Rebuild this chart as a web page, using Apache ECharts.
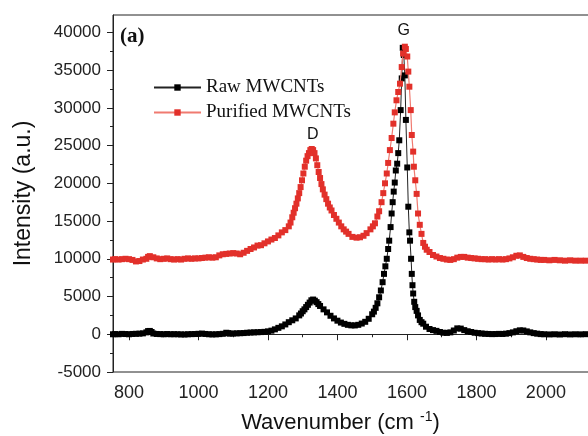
<!DOCTYPE html>
<html lang="en">
<head>
    <meta charset="UTF-8">
    <title>Raman MWCNTs</title>
    <script src="https://cdn.jsdelivr.net/npm/echarts@6.0.0/dist/echarts.min.js"></script>
    <style>
        html, body { margin: 0; padding: 0; background: #fff; }
    </style>
</head>
<body>
<div id="main" style="width: 588px;height:436px;"></div>
<script>
    // raw MWCNTs (black)
    var rawX = [754,760,770,780,790,800,810,820,830,840,850,855,860,865,870,880,890,900,910,920,930,940,950,960,970,980,990,
        1000,1010,1020,1030,1040,1050,1060,1070,1080,1085,1090,1100,1110,1120,1130,1140,1150,1160,1170,1180,1190,
        1200,1210,1220,1230,1240,1250,1260,1270,1280,1290,1295,1300,1305,1310,1315,1320,1325,1330,1335,1340,1345,1350,
        1360,1370,1380,1390,1400,1410,1420,1430,1440,1450,1460,1470,1480,1490,1500,1505,1510,1515,1520,1525,1530,
        1534,1538,1542,1546,1549,1553,1556,1559,1562,1565,1568,1572,1575,1578,1582,1585,1588,1591,1594,1597,1601,
        1604,1607,1609,1612,1614,1616,1618,1621,1624,1628,1632,1637,1642,1647,1655,1665,1675,1685,1695,1705,1715,
        1725,1735,1745,1755,1765,1775,1785,1795,1805,1815,1825,1835,1845,1855,1865,1875,1885,1895,1905,1915,1925,
        1935,1945,1955,1965,1975,1985,1995,2010,2025,2040,2055,2070,2085,2100,2115,2130,2150];
    var rawY = [0,20,0,50,30,0,40,60,80,120,250,420,440,300,100,40,20,0,30,0,10,0,-20,-30,0,20,30,
        60,90,40,0,-20,-10,20,60,200,150,80,100,120,140,160,200,230,250,270,290,320,
        380,480,650,850,1050,1300,1600,1850,2100,2500,2750,3050,3300,3600,3900,4200,4500,4600,4450,4250,4000,3750,
        3300,2900,2450,2100,1800,1550,1380,1250,1180,1170,1250,1420,1650,2050,2650,3000,3500,4100,4900,5800,6900,
        8000,9000,10000,11300,12400,14200,16000,17500,18900,20100,21700,22600,24000,25700,29700,33900,37950,37000,34300,28400,22100,
        16900,13500,12400,10000,8000,6500,5400,4300,3600,3100,2500,1900,1600,1400,1000,700,550,450,300,200,180,
        250,500,780,750,550,400,300,200,150,100,60,40,20,30,50,40,80,150,250,400,520,
        500,380,250,150,80,20,0,-20,0,-30,10,-20,0,-10,10,-20,0];

    // purified MWCNTs (red)
    var purX = [754,760,770,780,790,800,810,820,830,840,850,855,860,870,880,890,900,910,920,930,940,950,960,970,980,990,
        1000,1010,1020,1030,1040,1050,1060,1070,1080,1090,1100,1110,1120,1130,1140,1150,1160,1170,1180,1190,
        1200,1210,1220,1230,1240,1250,1260,1265,1270,1274,1278,1282,1286,1290,1294,1298,1302,1306,1310,1314,1318,
        1322,1326,1330,1334,1338,1342,1346,1350,1354,1358,1363,1368,1373,1378,1383,1390,1397,1404,1411,1418,1425,
        1432,1443,1455,1465,1475,1484,1495,1502,1508,1515,1520,1527,1532,1537,1542,1546,1551,1556,1561,1565,1570,
        1575,1580,1585,1589,1594,1597,1601,1604,1607,1611,1614,1618,1620,1624,1628,1632,1637,1642,1647,1652,1657,
        1665,1675,1685,1695,1705,1715,1725,1735,1745,1755,1765,1775,1785,1795,1805,1815,1825,1835,1845,1855,1865,
        1875,1885,1895,1905,1915,1925,1935,1945,1955,1965,1975,1985,1995,2010,2025,2040,2055,2070,2085,2100,2115,2130,2150];
    var purY = [9900,9950,9900,9950,10000,9950,9850,9650,9700,9900,10000,10250,10350,10200,10050,9950,10000,10050,9950,9900,9950,9900,10000,10050,10000,10050,
        10050,10100,10150,10200,10150,10200,10450,10600,10650,10700,10750,10700,10600,10800,11050,11300,11500,11750,11800,12050,
        12300,12550,12750,13100,13500,13800,14300,14800,15500,16100,16700,17300,18000,18700,19500,20400,21300,22200,23000,23600,24000,
        24400,24550,24400,24000,23300,22400,21500,20700,19900,19200,18500,17900,17300,16800,16400,15800,15300,14800,14300,13900,13600,
        13300,12900,12800,12850,13050,13400,13900,14300,14700,15600,16300,17500,18700,20000,21300,22700,24400,26000,27900,29400,31000,
        32100,33200,35400,37200,38100,37800,36800,34800,32800,29700,26400,24200,22200,20400,18600,16000,14500,13300,12100,11600,11200,
        10900,10500,10300,10100,10000,9900,9850,9950,10150,10250,10250,10150,10100,10050,10000,9950,9950,9900,9950,9900,9950,
        9900,9950,10050,10200,10400,10450,10250,10100,10000,9950,9900,9850,9850,9800,9850,9800,9750,9800,9750,9750,9750,9700,9750];

    var xMajor = [800, 1000, 1200, 1400, 1600, 1800, 2000];
    var xMinor = [900, 1100, 1300, 1500, 1700, 1900, 2100];
    var yMajor = [-5000, 0, 5000, 10000, 15000, 20000, 25000, 30000, 35000, 40000];
    var yMinor = [-2500, 2500, 7500, 12500, 17500, 22500, 27500, 32500, 37500];

    function pairs(xs, ys) {
        var out = [];
        for (var i = 0; i < xs.length; i++) {
            out.push([xs[i], ys[i]]);
        }
        return out;
    }
    function plain(v) { return String(v); }

    var sans = 'Liberation Sans';
    var serif = 'Liberation Serif';
    var axisColor = '#222';

    var myChart = echarts.init(document.getElementById('main'));

    var option = {
        animation: false,
        backgroundColor: '#fff',
        grid: {
            left: 113, top: 15, width: 485, height: 357,
            containLabel: false,
            outerBoundsMode: 'none',
            show: true, borderColor: axisColor, borderWidth: 1
        },
        legend: {
            orient: 'vertical',
            left: 148, top: 73,
            itemWidth: 47, itemHeight: 8, itemGap: 6,
            textStyle: { fontFamily: serif, fontSize: 19, color: '#111' },
            data: ['Raw MWCNTs', 'Purified MWCNTs']
        },
        graphic: [{
            type: 'text', left: 120, top: 26,
            style: { text: '(a)', font: 'bold 21px "Liberation Serif"', fill: '#111' }
        }],
        xAxis: [{
            type: 'value', min: 754, max: 2150, position: 'bottom',
            axisLine: { show: true, lineStyle: { color: axisColor, width: 1 } },
            axisTick: { show: true, inside: false, length: 6, customValues: xMajor, lineStyle: { color: axisColor } },
            axisLabel: { customValues: xMajor, formatter: plain, fontFamily: sans, fontSize: 18, color: '#222', margin: 12 },
            splitLine: { show: false },
            name: 'Wavenumber (cm {sup|-1})',
            nameLocation: 'middle', nameGap: 38,
            nameTextStyle: {
                fontFamily: sans, fontSize: 22, color: '#111', padding: [0, 30, 0, 0],
                rich: { sup: { fontFamily: sans, fontSize: 14, padding: [0, 0, 12, 0], color: '#111' } }
            }
        }, {
            type: 'value', min: 754, max: 2150, position: 'bottom',
            axisLine: { show: false },
            axisTick: { show: true, inside: false, length: 3, customValues: xMinor, lineStyle: { color: axisColor } },
            axisLabel: { show: false },
            splitLine: { show: false }
        }],
        yAxis: [{
            type: 'value', min: -5000, max: 42300, position: 'left',
            axisLine: { show: true, lineStyle: { color: axisColor, width: 1 } },
            axisTick: { show: true, inside: false, length: 6, customValues: yMajor, lineStyle: { color: axisColor } },
            axisLabel: { customValues: yMajor, formatter: plain, fontFamily: sans, fontSize: 17, color: '#222', margin: 12 },
            splitLine: { show: false },
            name: 'Intensity (a.u.)',
            nameLocation: 'middle', nameGap: 78,
            nameTextStyle: { fontFamily: sans, fontSize: 23, color: '#111' }
        }, {
            type: 'value', min: -5000, max: 42300, position: 'left',
            axisLine: { show: false },
            axisTick: { show: true, inside: false, length: 3, customValues: yMinor, lineStyle: { color: axisColor } },
            axisLabel: { show: false },
            splitLine: { show: false }
        }],
        series: [{
            name: 'Raw MWCNTs',
            type: 'line',
            xAxisIndex: 0, yAxisIndex: 0,
            data: pairs(rawX, rawY),
            symbol: 'rect', symbolSize: 6, showAllSymbol: true,
            itemStyle: { color: '#000' },
            lineStyle: { color: '#222', width: 1 },
            z: 2
        }, {
            name: 'Purified MWCNTs',
            type: 'line',
            xAxisIndex: 0, yAxisIndex: 0,
            data: pairs(purX, purY),
            symbol: 'rect', symbolSize: 6, showAllSymbol: true,
            itemStyle: { color: '#e2302a' },
            lineStyle: { color: '#f07a70', width: 1.2 },
            z: 3,
            markPoint: {
                symbol: 'rect', symbolSize: 0, silent: true,
                label: { show: true, position: 'inside', formatter: '{b}', fontFamily: sans, fontSize: 16, color: '#111' },
                data: [
                    { name: 'D', coord: [1329, 26400] },
                    { name: 'G', coord: [1591, 40300] }
                ]
            }
        }]
    };

    myChart.setOption(option);
</script>
</body>
</html>
